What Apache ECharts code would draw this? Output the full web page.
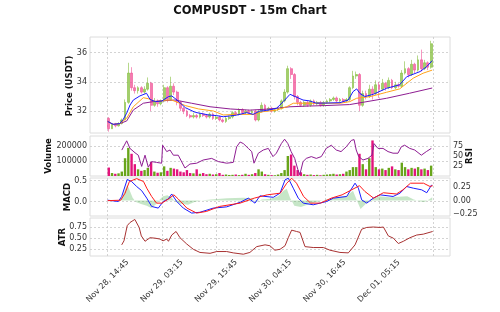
<!DOCTYPE html>
<html>
<head>
<meta charset="utf-8">
<script src="https://cdn.jsdelivr.net/npm/echarts@6/dist/echarts.min.js"></script>
<style>
html, body { margin: 0; padding: 0; background: #fff; }
#main { width: 500px; height: 312px; }
</style>
</head>
<body>
<div id="main"></div>
<script>
// bar index of the x ticks (15m bars) and their labels
const xTicks = [0, 50, 100, 150, 200, 250, 300];
const xTickLabels = ["Nov 28, 14:45", "Nov 29, 03:15", "Nov 29, 15:45", "Nov 30, 04:15", "Nov 30, 16:45", "Dec 01, 05:15"];

// candles, one every 3 bars
const barStep = 3;
const firstOpen = 31.5;
const closes = [30.8,31.1,31.0,31.15,31.4,32.6,34.6,33.6,33.4,33.6,
  33.3,33.5,33.9,32.4,32.7,32.5,32.7,33.6,32.8,33.7,
  33.3,32.6,32.2,32.0,31.7,31.6,31.7,31.6,31.8,31.7,
  31.6,31.8,31.5,31.6,31.4,31.3,31.5,31.6,31.9,31.8,
  32.1,31.9,32.0,31.9,32.0,31.4,32.0,32.4,32.1,32.2,
  32.0,32.1,32.2,32.7,33.3,34.9,34.5,33.0,32.6,32.4,
  32.6,32.4,32.7,32.5,32.6,32.4,32.6,32.7,32.8,32.9,
  32.7,32.8,32.7,32.8,33.6,34.4,34.5,32.4,33.2,33.0,
  33.5,33.2,33.8,33.5,33.9,33.6,34.1,33.6,33.8,33.7,
  34.6,34.9,34.5,35.2,34.8,35.5,34.9,35.3,35.0,36.6];
const highs = [31.6,31.2,31.2,31.25,31.5,32.8,35.3,35.0,33.8,33.7,
  33.7,33.7,34.3,34.0,32.9,32.8,32.8,33.8,33.7,34.35,
  33.9,33.4,32.7,32.3,32.1,31.8,31.9,31.8,31.9,31.9,
  31.8,31.9,31.9,31.7,31.7,31.5,31.6,31.7,32.0,32.0,
  32.2,32.2,32.1,32.1,32.1,32.1,32.1,32.6,32.5,32.3,
  32.3,32.2,32.3,32.8,33.5,35.1,35.0,34.6,33.1,32.7,
  32.7,32.7,32.8,32.8,32.7,32.7,32.7,32.8,32.9,33.0,
  33.0,32.9,32.9,32.9,33.7,34.75,34.7,34.6,33.4,33.4,
  33.8,33.7,34.1,34.0,34.2,34.0,34.3,34.2,34.0,33.9,
  34.8,35.4,35.0,35.5,35.3,35.8,36.2,35.5,35.4,36.8];
const lows = [30.6,30.8,30.9,30.95,31.1,31.4,32.5,33.4,33.2,33.2,
  33.2,33.2,33.4,32.0,32.3,32.3,32.4,32.6,32.6,32.7,
  33.1,32.4,32.0,31.8,31.6,31.5,31.5,31.5,31.5,31.6,
  31.5,31.5,31.4,31.4,31.3,31.2,31.2,31.4,31.5,31.7,
  31.7,31.8,31.8,31.8,31.8,31.3,31.3,31.9,32.0,32.0,
  31.9,31.9,32.0,32.1,32.6,33.2,34.2,32.8,32.4,32.3,
  32.3,32.3,32.3,32.4,32.4,32.3,32.3,32.5,32.6,32.7,
  32.6,32.6,32.6,32.6,32.7,33.5,34.2,32.0,32.3,32.8,
  32.9,32.8,33.1,32.9,33.4,33.4,33.5,33.5,33.5,33.6,
  33.6,34.5,34.3,34.4,34.6,34.7,34.7,34.8,34.8,34.9];
const volumes = [57000,20000,15000,18000,30000,120000,190000,150000,80000,45000,
  35000,40000,55000,95000,30000,22000,25000,65000,35000,55000,
  50000,45000,30000,25000,40000,20000,18000,45000,15000,20000,
  12000,15000,10000,12000,20000,8000,10000,7000,8000,10000,
  6000,8000,15000,8000,12000,20000,45000,30000,12000,8000,
  6000,5000,10000,20000,40000,135000,145000,70000,40000,25000,
  12000,8000,10000,6000,8000,5000,8000,10000,12000,15000,
  10000,12000,15000,30000,40000,60000,60000,150000,80000,45000,
  120000,240000,60000,45000,50000,40000,55000,65000,45000,40000,
  90000,60000,45000,55000,50000,60000,45000,50000,40000,70000];

// moving averages [bar, price]
const emaFast = [[0,31.3],[5,31.1],[11,31.15],[14,31.4],[17.5,31.86],[20.6,32.42],[23.6,32.76],[29.7,33.04],[35.8,33.22],[37,33.1],[39,32.8],[43.9,32.65],[50,32.7],[56,32.99],[59,33.04],[63.9,32.76],[71.5,32.24],[80.7,31.92],[93,31.74],[100,31.7],[106.5,31.62],[118.8,31.73],[128,31.9],[134,31.78],[140,32.0],[146.5,32.05],[155.7,32.2],[161.8,32.65],[168,33.15],[172.6,33.0],[180,32.76],[186,32.7],[192,32.55],[200,32.55],[214,32.58],[221.7,32.76],[226,33.33],[229.4,33.52],[232.5,33.2],[237,33.0],[244.7,33.15],[257,33.56],[269,33.8],[275.5,34.35],[287.8,34.7],[294,35.04],[299,35.45]];
const emaMid = [[0,31.3],[5,31.1],[11,31.15],[17.5,31.52],[23.6,32.3],[32.8,32.92],[37.4,32.85],[43.9,32.65],[53,32.75],[59,32.76],[71.5,32.38],[83.8,32.15],[97.5,32.01],[106.5,31.74],[118.8,31.78],[134,31.78],[143.5,31.97],[155.7,32.07],[164.9,32.3],[171,32.54],[180,32.54],[200,32.54],[214,32.54],[223,32.65],[229.4,32.88],[241.7,32.99],[257,33.29],[269,33.52],[281.5,34.25],[290.6,34.59],[299,34.8]];
const emaSlow = [[0,31.3],[5,31.1],[11,31.15],[17.5,31.33],[23.6,32.08],[32.8,32.54],[41.9,32.65],[53,32.72],[62,32.76],[77.3,32.54],[94.3,32.3],[113,32.15],[131,32.07],[149.6,32.15],[168,32.3],[186,32.35],[200,32.38],[223,32.45],[257,32.88],[278,33.22],[299,33.58]];

// RSI [bar, value]
const rsi = [[13,64.8],[17.5,88],[20.5,69],[25.2,58],[28.2,52],[31.3,24],[34.4,52],[37.4,22],[40.5,36],[45,34],[49.7,32],[50.6,77],[54.4,61],[57.4,65],[60.5,52],[65,52],[66.6,47],[71.2,20],[75.8,30],[82,32],[88,40],[95.8,44],[102,36],[109.6,32],[115.7,34],[118.8,73],[122,85],[125,81],[129.6,69],[132.7,61],[134.8,32],[138.8,57],[143.4,65],[148,69],[152.3,48.5],[155.4,57],[160,81],[163,92],[166,81],[169,61],[172.3,44],[175.3,15.5],[177,3],[180,36],[183,44],[187.6,48.5],[192.2,44],[196.8,48.5],[201.4,69],[206,77],[210.6,65],[215,61],[219.8,73],[224.5,89],[227,91],[229,65],[231.3,48.5],[235.2,40],[239.8,44],[243.5,52],[245.4,81],[249,69],[253.7,69],[258.3,61],[262.9,57],[267.5,57],[270.5,73],[273.6,77],[278.3,69],[282.9,65],[289,52],[293.6,61],[298.2,69]];

// MACD line, signal line and histogram [bar, value]
const macd = [[0,0.03],[9.8,0],[12.9,0.12],[18,0.53],[22,0.48],[26.7,0.36],[31.3,0.26],[36,0.08],[40.5,-0.12],[46.6,-0.16],[51.2,0],[55.8,0.06],[59,0.18],[63.6,0],[69.7,-0.16],[77.4,-0.28],[85,-0.26],[97.3,-0.16],[109.6,-0.13],[122,-0.02],[129.6,0.08],[135.7,-0.04],[140.3,0.135],[152.6,0.1],[158.8,0.2],[163.4,0.52],[166.4,0.56],[171,0.32],[175.6,0.08],[180.2,-0.04],[189.4,-0.08],[201.8,0],[207.9,0.08],[220.2,0.12],[227.9,0.44],[231,0.32],[234,0.04],[238.7,-0.04],[244.7,0.08],[250.9,0.16],[263,0.12],[269.3,0.2],[275.5,0.36],[281.6,0.32],[289.3,0.28],[294,0.21],[298.5,0.4]];
const signal = [[0,0.02],[12,0.03],[16,0.2],[20,0.48],[26.7,0.55],[33,0.48],[36,0.32],[40.5,0.12],[45,-0.04],[50,-0.04],[56,0.06],[61,0.16],[65,0.06],[73,-0.16],[82,-0.28],[91,-0.24],[103,-0.12],[122,-0.04],[135,0.08],[147,0.16],[159,0.2],[165,0.44],[169.5,0.56],[174,0.44],[180.5,0.12],[187,-0.04],[196,-0.04],[206,0.08],[216,0.16],[232,0.38],[237,0.24],[245,0.08],[254,0.21],[266,0.18],[272,0.28],[279,0.44],[291,0.44],[297,0.36],[299.5,0.38]];
const macdHist = [[0,0],[10,0],[13,0.05],[16,0.2],[18,0.3],[20,0.2],[23,0.05],[26,-0.03],[30,-0.06],[36,-0.1],[40,-0.14],[44,-0.08],[48,0.02],[51,0.08],[55,0.1],[59,0.05],[62,-0.02],[67,-0.06],[74,-0.08],[80,-0.03],[86,0],[95,0.02],[110,0.04],[125,0.05],[133,0.04],[137,-0.03],[142,0.02],[150,0.03],[157,0.08],[162,0.18],[165,0.22],[168,0.05],[172,-0.1],[178,-0.12],[184,-0.08],[192,-0.03],[200,0.01],[210,0.06],[220,0.08],[226,0.18],[230,-0.02],[233,-0.16],[237,-0.08],[242,0.02],[250,0.08],[260,0.06],[268,0.07],[276,0.08],[282,0.02],[288,-0.02],[292,-0.03],[296,0.02],[299,0.06]];

// ATR [bar, value]
const atr = [[12.9,0.35],[15,0.44],[18,0.78],[20.5,0.85],[25,0.92],[29,0.74],[31,0.55],[34.4,0.43],[36,0.45],[39,0.51],[43.6,0.5],[48.2,0.48],[51,0.44],[54.4,0.48],[56,0.43],[59,0.57],[63,0.65],[66.6,0.51],[72.8,0.37],[78.9,0.25],[85,0.18],[94.3,0.16],[100.4,0.2],[109.6,0.2],[115.7,0.17],[125,0.14],[131,0.18],[137.3,0.31],[145,0.35],[149.5,0.33],[154,0.23],[158.8,0.25],[163.4,0.33],[166.4,0.51],[169.5,0.68],[174,0.65],[177.2,0.63],[181.8,0.31],[189.4,0.29],[198.7,0.29],[204.8,0.23],[214,0.18],[221.7,0.17],[227.9,0.35],[234,0.7],[238.6,0.74],[244.7,0.75],[250.9,0.74],[254,0.75],[258.6,0.55],[263.2,0.5],[267.8,0.38],[272.4,0.43],[278.5,0.51],[284.7,0.57],[290.8,0.59],[299.4,0.65]];

const UP = 'rgba(132,190,60,0.75)', DOWN = 'rgba(240,80,150,0.75)';
const VOL_UP = '#68a51a', VOL_DOWN = '#e3147c';
const FONT = 'DejaVu Sans';
const TICK = { fontFamily: FONT, fontSize: 8, color: '#333' };

const candles = closes.map((c, k) => {
  const o = k === 0 ? firstOpen : closes[k - 1];
  return [barStep * k + 1, o, c, lows[k], highs[k]];
});
const volBars = volumes.map((v, k) => ({
  value: [barStep * k + 1, v],
  itemStyle: { color: candles[k][2] >= candles[k][1] ? VOL_UP : VOL_DOWN }
}));

const grids = [
  { left: 90, right: 50, top: 37, height: 96 },
  { left: 90, right: 50, top: 136, height: 40 },
  { left: 90, right: 50, top: 178, height: 38 },
  { left: 90, right: 50, top: 218, height: 38 }
].map(g => Object.assign(g, { show: true, borderColor: '#dcdcdc', borderWidth: 1 }));

const gridLine = { show: true, lineStyle: { color: '#c8c8c8', type: [2, 2], width: 0.8 } };

function xAxis(idx) {
  return {
    type: 'value', gridIndex: idx, min: -16.3, max: 315.4,
    axisLine: { show: false },
    axisTick: { show: false, customValues: xTicks },
    splitLine: gridLine,
    axisLabel: idx === 3 ? Object.assign({
      customValues: xTicks.slice(0, 6),
      formatter: v => xTickLabels[Math.round(v / 50)],
      rotate: 45, align: 'center', verticalAlign: 'middle', margin: 25
    }, TICK) : { show: false }
  };
}

function yAxis(idx, min, max, ticks, fmt, right, split) {
  return {
    type: 'value', gridIndex: idx, min: min, max: max, position: right ? 'right' : 'left',
    axisLine: { show: false },
    axisTick: { show: false, customValues: ticks },
    splitLine: split ? gridLine : { show: false },
    axisLabel: Object.assign({ customValues: ticks, formatter: fmt, margin: 3 }, TICK)
  };
}

function line(name, data, color, xi, yi, width) {
  return {
    name: name, type: 'line', data: data, xAxisIndex: xi, yAxisIndex: yi,
    showSymbol: false, symbol: 'none', z: 5,
    lineStyle: { color: color, width: width || 1 }
  };
}

function axisName(text, x, y) {
  return {
    type: 'text', x: x, y: y, rotation: Math.PI / 2,
    style: {
      text: text, fill: '#111', font: 'bold 8.5px "DejaVu Sans"',
      align: 'center', verticalAlign: 'middle',
      textAlign: 'center', textVerticalAlign: 'middle'
    }
  };
}

const chart = echarts.init(document.getElementById('main'), null, { renderer: 'canvas' });
chart.setOption({
  animation: false,
  backgroundColor: '#fff',
  title: {
    text: 'COMPUSDT - 15m Chart', left: 'center', top: 0,
    textStyle: { fontFamily: FONT, fontSize: 11.5, fontWeight: 'bold', color: '#111' }
  },
  grid: grids,
  xAxis: [xAxis(0), xAxis(1), xAxis(2), xAxis(3)],
  yAxis: [
    yAxis(0, 30.51, 37.06, [32, 34, 36], v => String(v), false, true),
    yAxis(1, 0, 270000, [100000, 200000], v => String(v), false, true),
    yAxis(1, 0, 100, [25, 50, 75], v => String(v), true, false),
    yAxis(2, -0.35, 0.565, [0, 0.5], v => v.toFixed(1), false, true),
    yAxis(2, -0.29, 0.42, [-0.25, 0, 0.25], v => (v < 0 ? '\u2212' : '') + Math.abs(v).toFixed(2), true, false),
    yAxis(3, 0.10, 0.952, [0.25, 0.5, 0.75], v => v.toFixed(2), false, true)
  ],
  graphic: [
    axisName('Price (USDT)', 69.5, 86),
    axisName('Volume', 49, 156),
    axisName('RSI', 470, 156),
    axisName('MACD', 67.5, 197),
    axisName('ATR', 62.5, 237)
  ],
  series: [
    {
      type: 'candlestick', xAxisIndex: 0, yAxisIndex: 0, data: candles,
      dimensions: ['x', 'open', 'close', 'lowest', 'highest'],
      encode: { x: 'x', y: ['open', 'close', 'lowest', 'highest'] },
      barWidth: 2.3,
      itemStyle: { color: UP, color0: DOWN, borderColor: UP, borderColor0: DOWN, borderWidth: 0.8 }
    },
    line('EMA slow', emaSlow, '#8e1d92', 0, 0),
    line('EMA mid', emaMid, '#ffa31a', 0, 0),
    line('EMA fast', emaFast, '#1a1aff', 0, 0),
    { type: 'bar', xAxisIndex: 1, yAxisIndex: 1, data: volBars, barWidth: 2.4 },
    line('RSI', rsi, '#8e1d92', 1, 2),
    {
      type: 'line', xAxisIndex: 2, yAxisIndex: 4, data: macdHist, showSymbol: false, symbol: 'none',
      lineStyle: { width: 0 }, areaStyle: { color: 'rgba(76,175,80,0.45)', origin: 'auto' }
    },
    line('MACD', macd, '#1a1aff', 2, 3),
    line('Signal', signal, '#ff1a1a', 2, 3),
    line('ATR', atr, '#a83232', 3, 5)
  ]
});
</script>
</body>
</html>
